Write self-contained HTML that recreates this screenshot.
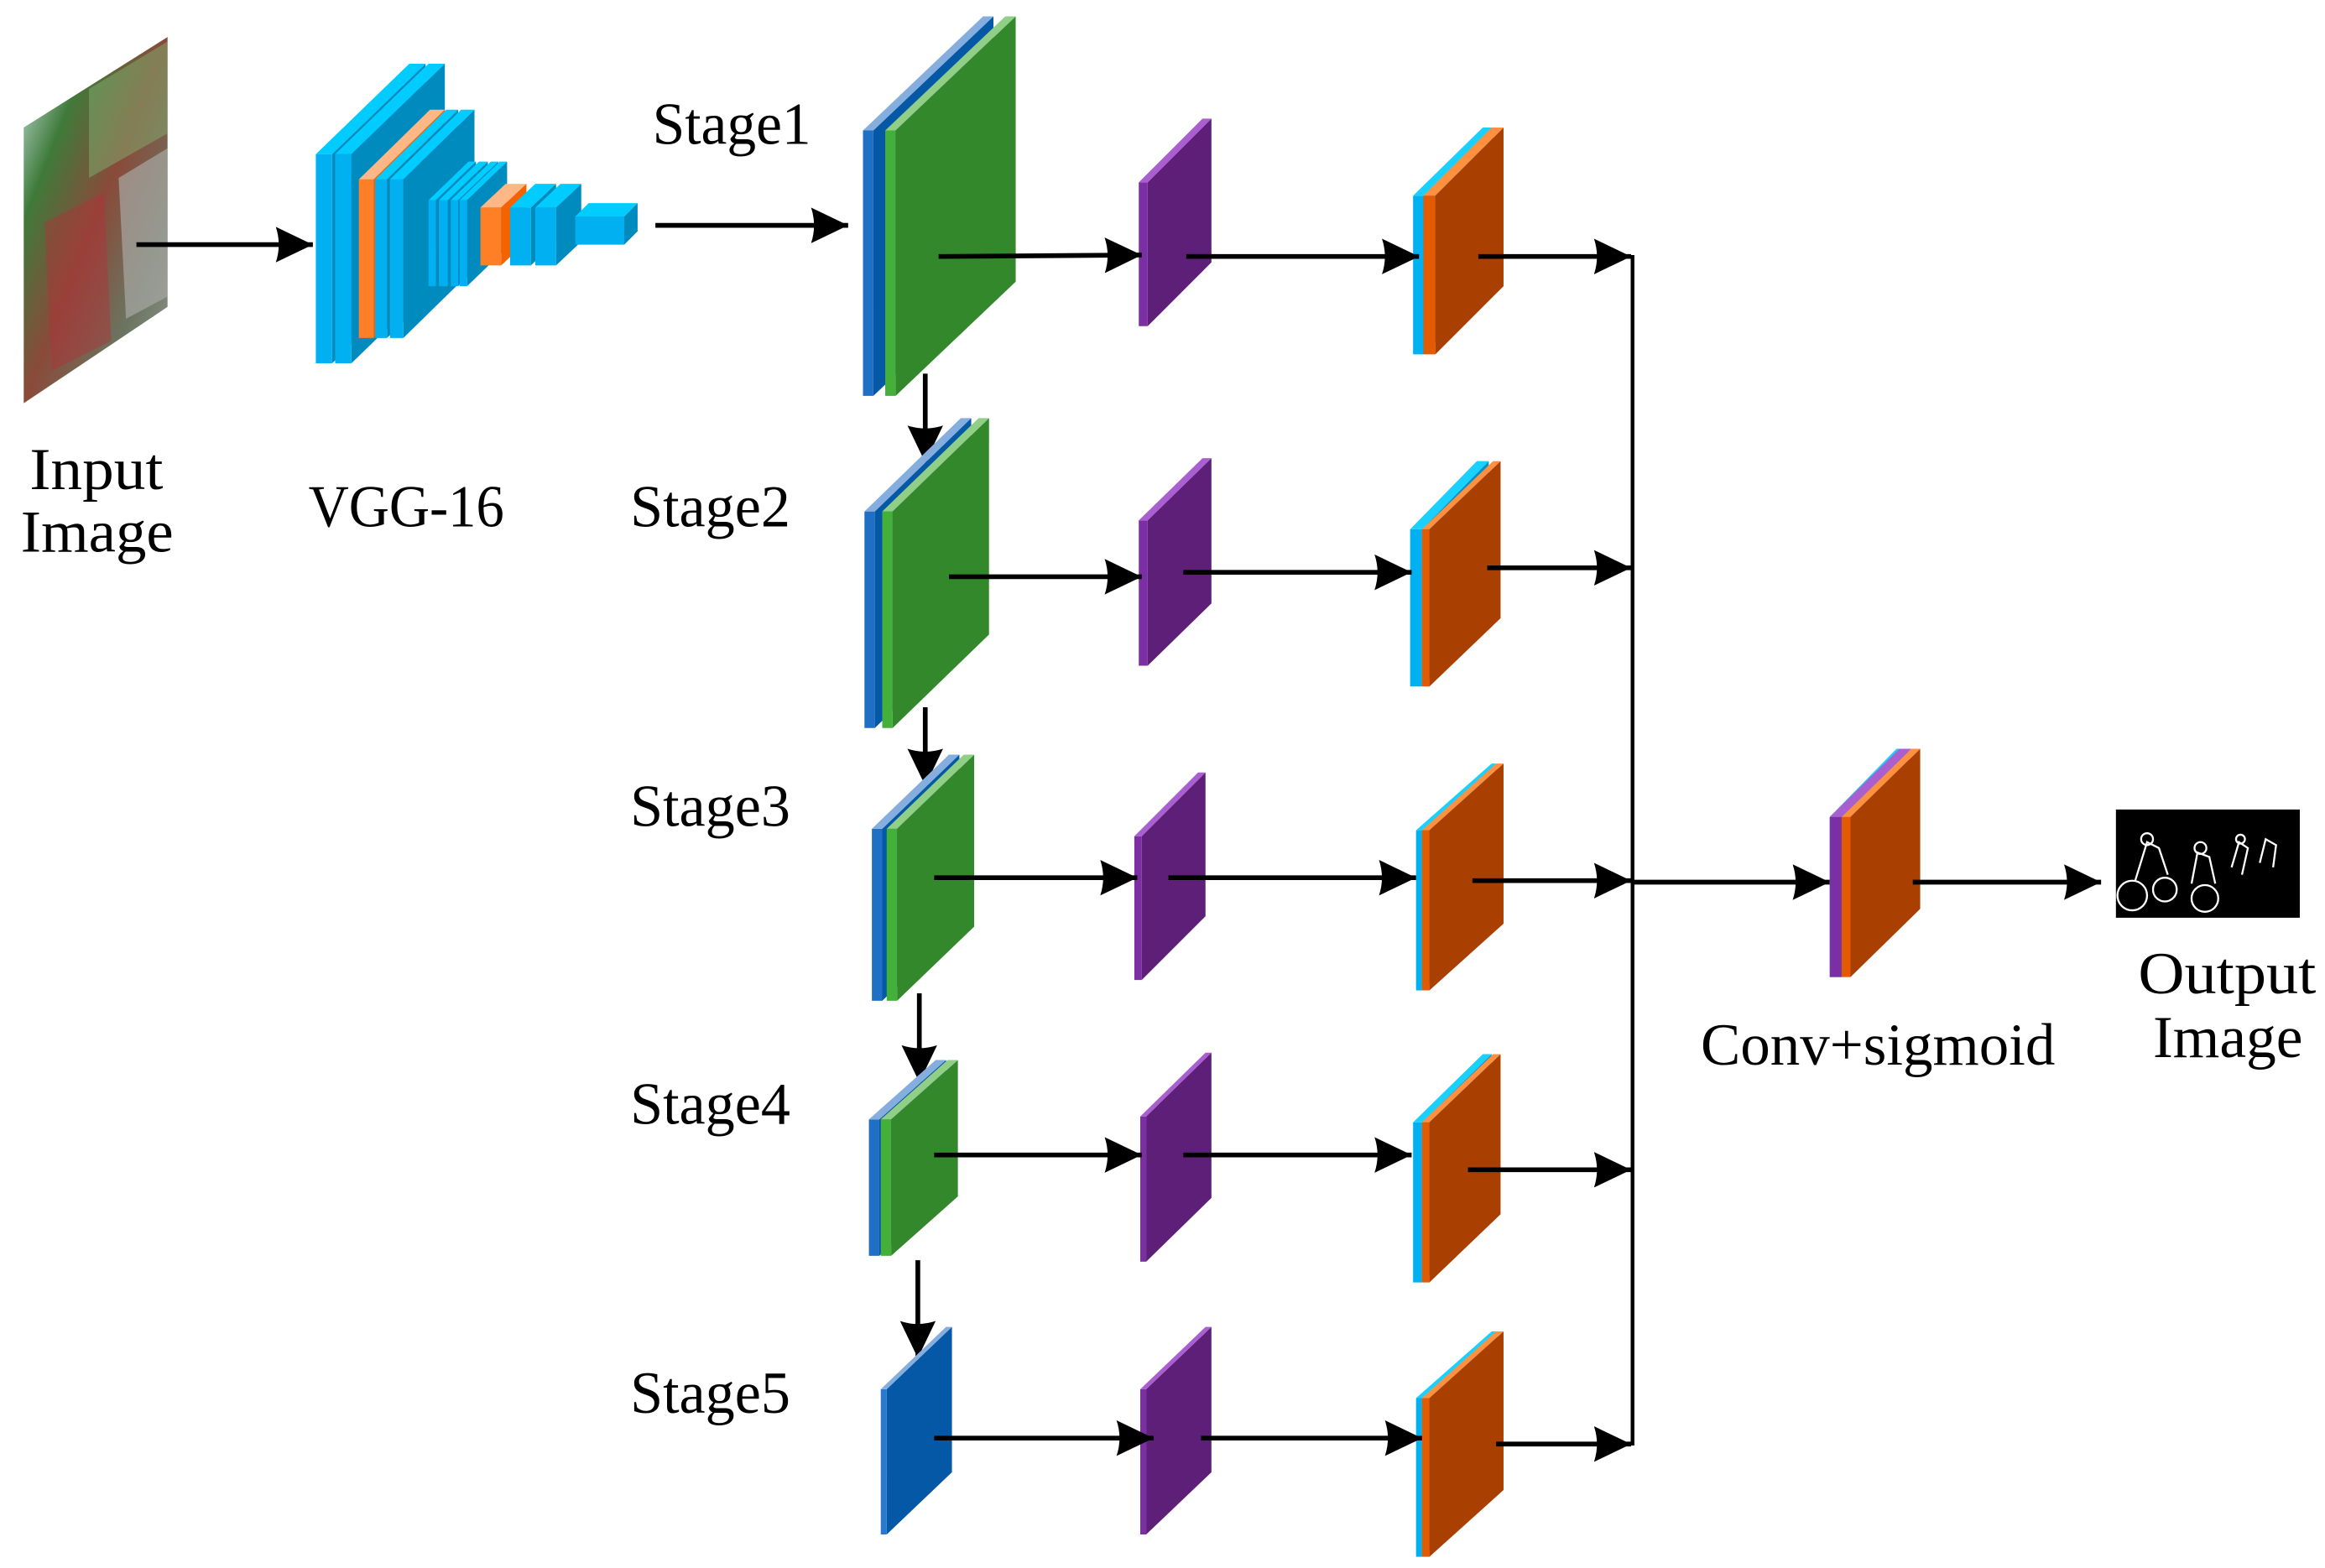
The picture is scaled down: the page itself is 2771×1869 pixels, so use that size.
<!DOCTYPE html>
<html><head><meta charset="utf-8"><style>
html,body{margin:0;padding:0;background:#fff;}
svg{display:block;}
text{font-family:"Liberation Serif",serif;font-size:40px;fill:#000;}
</style></head><body>
<svg id="s" width="2771" height="1869" viewBox="0 0 1568 1057.6" preserveAspectRatio="none" xmlns="http://www.w3.org/2000/svg">
<defs>
<marker id="ah" markerUnits="userSpaceOnUse" markerWidth="26" markerHeight="26" refX="25" refY="12" orient="auto">
<path d="M0,0 L25,12 L0,24 Q4,12 0,0 z" fill="#000"/>
</marker>
<linearGradient id="ig" x1="0" y1="0" x2="1" y2="1">
<stop offset="0" stop-color="#d8eef5"/><stop offset="0.25" stop-color="#3f7a3a"/>
<stop offset="0.5" stop-color="#8a4a3a"/><stop offset="0.75" stop-color="#6a7560"/><stop offset="1" stop-color="#9a9a96"/>
</linearGradient>
</defs>
<g id="g"></g>
<text x="440" y="97" textLength="107" lengthAdjust="spacingAndGlyphs">Stage1</text>
<text x="20" y="330" textLength="90" lengthAdjust="spacingAndGlyphs">Input</text>
<text x="14" y="372" textLength="103" lengthAdjust="spacingAndGlyphs">Image</text>
<text x="208" y="355" textLength="132" lengthAdjust="spacingAndGlyphs">VGG-16</text>
<text x="425" y="355" textLength="108" lengthAdjust="spacingAndGlyphs">Stage2</text>
<text x="425" y="557" textLength="108" lengthAdjust="spacingAndGlyphs">Stage3</text>
<text x="425" y="758" textLength="108" lengthAdjust="spacingAndGlyphs">Stage4</text>
<text x="425" y="953" textLength="108" lengthAdjust="spacingAndGlyphs">Stage5</text>
<text x="1147" y="718" textLength="239" lengthAdjust="spacingAndGlyphs">Conv+sigmoid</text>
<text x="1442" y="670" textLength="120" lengthAdjust="spacingAndGlyphs">Output</text>
<text x="1452" y="713" textLength="101" lengthAdjust="spacingAndGlyphs">Image</text>
</svg>
<script>
var g=document.getElementById('g'),h='';
function P(pts,c){h+='<polygon points="'+pts.join(' ')+'" fill="'+c+'"/>';}
function plate(x0,x1,x2,yt,yb,d,sc,fc,lc){
  P([x1+','+yt,x2+','+(yt-d),x2+','+(yb-d),x1+','+yb],fc);
  P([x0+','+yt,x1+','+yt,x1+','+yb,x0+','+yb],sc);
  var k=(x1-x0);
  P([x0+','+yt,x1+','+yt,x2+','+(yt-d),(x2-k)+','+(yt-d)],lc);
}
function prism(x,y,w,hh,dx,dy,f,t,s){
  P([x+','+y,(x+dx)+','+(y+dy),(x+w+dx)+','+(y+dy),(x+w)+','+y],t);
  P([(x+w)+','+y,(x+w+dx)+','+(y+dy),(x+w+dx)+','+(y+hh+dy),(x+w)+','+(y+hh)],s);
  P([x+','+y,(x+w)+','+y,(x+w)+','+(y+hh),x+','+(y+hh)],f);
}
function A(x1,y1,x2,y2){h+='<line x1="'+x1+'" y1="'+y1+'" x2="'+x2+'" y2="'+y2+'" stroke="#000" stroke-width="3.2" marker-end="url(#ah)"/>';}
function L(x1,y1,x2,y2){h+='<line x1="'+x1+'" y1="'+y1+'" x2="'+x2+'" y2="'+y2+'" stroke="#000" stroke-width="2.5"/>';}
P(['16,86','113,25','113,207','16,272'],'url(#ig)');
h+='<polygon points="60,60 113,28 113,90 60,120" fill="#7fb070" opacity="0.5"/>';
h+='<polygon points="30,150 70,130 75,230 35,250" fill="#b0343a" opacity="0.45"/>';
h+='<polygon points="80,120 113,100 113,200 85,215" fill="#a8a8a4" opacity="0.7"/>';
A(92,165,211,165);
var B='#00b0f0',T='#00ccff',S='#008bbf',O='#ff7f27',OT='#ffb786',OS='#f56300';
prism(213,104,11,141,63,-61,B,T,S);
prism(226,104,11,141,63,-61,B,T,S);
prism(242,121,10,107,48,-47,O,OT,OS);
prism(253,121,8,107,48,-47,B,T,S);
prism(263,121,9,107,48,-47,B,T,S);
prism(289,135,5,58,27,-26,B,T,S);
prism(296,135,6,58,27,-26,B,T,S);
prism(304,135,5,58,27,-26,B,T,S);
prism(310,135,5,58,27,-26,B,T,S);
prism(324,140,14,39,17,-16,O,OT,OS);
prism(344,140,14,39,17,-16,B,T,S);
prism(361,140,14,39,17,-16,B,T,S);
prism(388,146,33,19,9,-9,B,T,S);
A(442,152,572,152);
var BS='#1f6fc4',BF='#0458a5',BL='#85aede',GS='#44b03a',GF='#34882c',GL='#91cf86',PS='#7b2fa3',PF='#5e1f78',PL='#a95fd0',CS='#00b0f0',CF='#0090c8',CL='#1ad0ff',OSt='#e35a00',OF='#a94002',OL='#ff9040';
function stageGB(bx,gx0,gx1,gx2,yt,yb,d){plate(bx,bx+7,gx2-(gx0-bx),yt,yb,d,BS,BF,BL);plate(gx0,gx1,gx2,yt,yb,d,GS,GF,GL);}
function purp(x0,x1,x2,yt,yb,d){plate(x0,x1,x2,yt,yb,d,PS,PF,PL);}
function orng(c0,o0,o1,x2,yt,yb,d){plate(c0,o0,x2-(o0-c0),yt,yb,d,CS,CF,CL);plate(o0,o1,x2,yt,yb,d,OSt,OF,OL);}
stageGB(582,597,604,685,88,267,77);
purp(768,774,817,123,220,43);
orng(953,960,968,1014,132,239,46);
A(633,173,770,172);A(800,173,957,173);A(997,173,1100,173);
A(624,252,624,312);
stageGB(583,595,602,667,345,491,63);
purp(768,774,817,351,449,42);
orng(951,959,964,1012,357,463,46);
A(640,389,770,389);A(798,386,952,386);A(1003,383,1100,383);
A(624,477,624,530);
stageGB(588,598,605,657,559,675,50);
purp(765,770,813,564,661,43);
orng(955,959,964,1014,560,668,45);
A(630,592,767,592);A(788,592,955,592);A(993,594,1100,594);
A(620,670,620,730);
stageGB(586,594,601,646,755,847,40);
purp(769,773,817,753,851,43);
orng(953,959,964,1012,757,865,46);
A(630,779,770,779);A(798,779,952,779);A(990,789,1100,789);
A(619,850,619,916);
plate(594,598,642,937,1035,42,'#2a79cf',BF,BL);
purp(769,773,817,937,1035,42);
orng(955,959,964,1014,943,1050,45);
A(630,970,778,970);A(810,970,959,970);A(1009,974,1100,974);
L(1101,172,1101,975);
A(1101,595,1234,595);
orng(1234,1242,1248,1295,551,659,46);
P(['1234,551','1242,551','1289,505','1281,505'],'#a95fd0');
P(['1234,551','1242,551','1242,659','1234,659'],PS);
A(1290,595,1417,595);
h+='<rect x="1427" y="546" width="124" height="73" fill="#000"/>';
h+='<g fill="none" stroke="#fff" stroke-width="1.3"><circle cx="1438" cy="604" r="10"/><circle cx="1460" cy="600" r="8"/><circle cx="1487" cy="606" r="9"/><path d="M1440,594 L1448,568 L1456,572 L1462,590 M1478,596 L1482,575 L1490,578 L1494,596 M1505,585 L1510,568 L1516,572 L1512,590 M1524,582 L1528,566 L1535,570 L1533,585"/><circle cx="1448" cy="566" r="4"/><circle cx="1484" cy="572" r="4"/><circle cx="1511" cy="566" r="3"/></g>';
g.innerHTML=h;
</script>
</body></html>
